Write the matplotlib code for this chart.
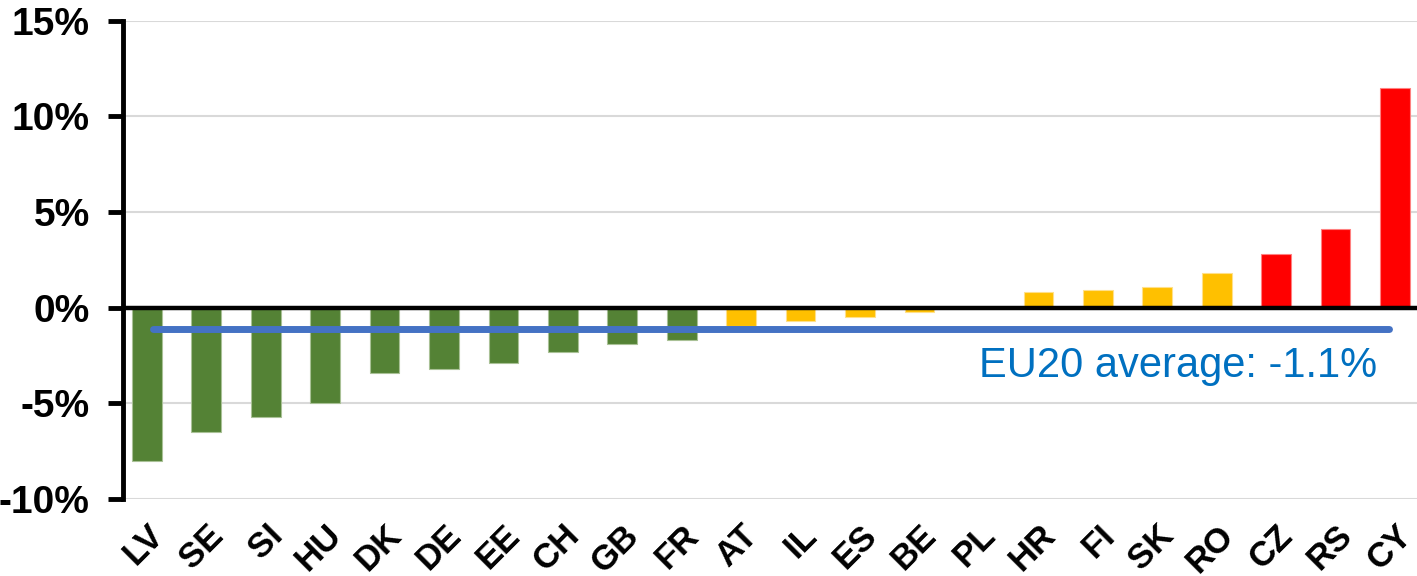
import matplotlib
matplotlib.use("Agg")
import matplotlib.pyplot as plt
import numpy as np

# data (percent change)
countries = ["LV", "SE", "SI", "HU", "DK", "DE", "EE", "CH", "GB", "FR",
             "AT", "IL", "ES", "BE", "PL", "HR", "FI", "SK", "RO",
             "CZ", "RS", "CY"]
values = [-8.0, -6.5, -5.7, -5.0, -3.4, -3.2, -2.9, -2.3, -1.9, -1.7,
          -0.95, -0.7, -0.5, -0.25, 0.0, 0.8, 0.9, 1.1, 1.8,
          2.8, 4.1, 11.5]
groups = ["low"] * 10 + ["mid"] * 9 + ["high"] * 3
eu_average = -1.1
y_ticks = [-10, -5, 0, 5, 10, 15]

group_colors = {"low": "#548235", "mid": "#FFC000", "high": "#FF0000"}
edge_colors = {"low": "#a9c196", "mid": "#ffe08a", "high": "#ff8080"}

plt.rcParams['font.family'] = ['Liberation Sans', 'DejaVu Sans']

fig = plt.figure(figsize=(14.17, 5.76), dpi=100)
ax = fig.add_axes([123 / 1417, 1 - 499 / 576, 1 - 123 / 1417, (499 - 20.7) / 576])

x = np.arange(len(countries))

# grid first, bars on top
ax.set_ylim(-10, 15)
ax.set_yticks(y_ticks)
ax.yaxis.grid(True, color="#d9d9d9", linewidth=1.5, zorder=0)
ax.set_axisbelow(True)

ax.bar(x, values, width=0.5,
       color=[group_colors[g] for g in groups],
       edgecolor=[edge_colors[g] for g in groups], linewidth=0.8, zorder=2)

# zero line
ax.axhline(0, color="black", linewidth=3.2, zorder=3)

# EU average line
ax.plot([x[0] + 0.1, x[-1] - 0.1], [eu_average, eu_average], color="#4472C4",
        linewidth=5, solid_capstyle="round", zorder=4)
ax.text(20.7, eu_average - 2.53, "EU20 average: -1.1%", color="#0070C0",
        fontsize=30, ha="right", va="baseline", zorder=5)

ax.set_xlim(-0.4, len(countries) - 0.63)
ax.set_xticks(x)
ax.set_xticklabels(countries, rotation=45, ha="right", rotation_mode="anchor",
                   fontsize=25, fontweight="bold")
ax.tick_params(axis="x", length=0, pad=14)
ax.set_yticklabels([f"{t}%" for t in y_ticks], fontsize=28, fontweight="bold")
ax.tick_params(axis="y", direction="out", length=11, width=3.5, color="black", pad=13)

for side in ["top", "right", "bottom"]:
    ax.spines[side].set_visible(False)
ax.spines["left"].set_linewidth(3.5)
ax.spines["left"].set_color("black")

fig.savefig("out.png", dpi=100)
